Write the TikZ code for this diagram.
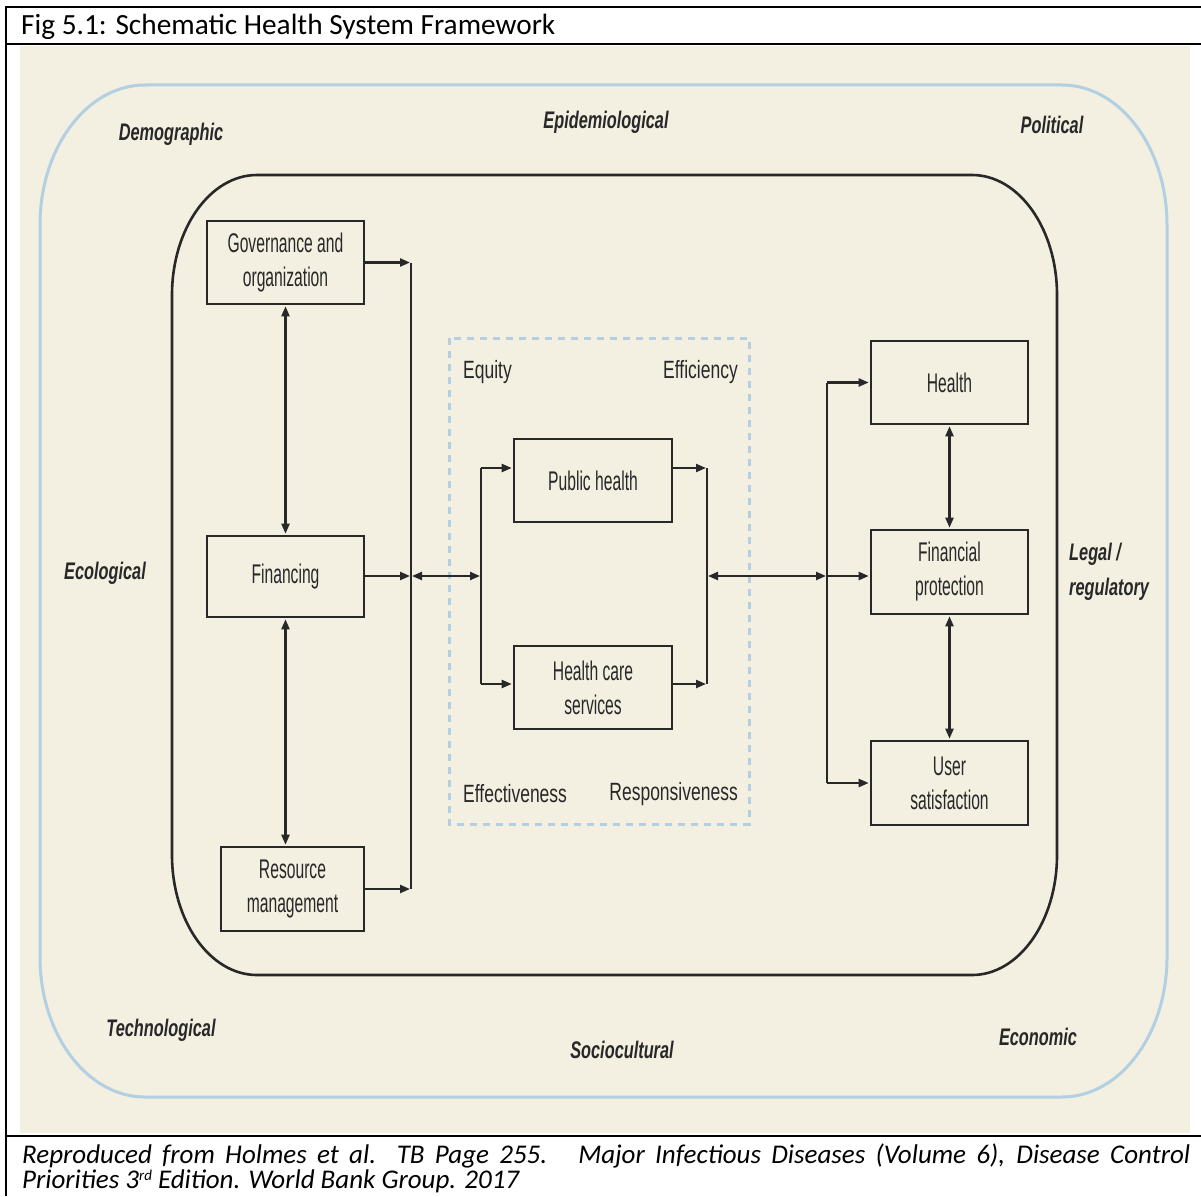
\documentclass[tikz,border=0pt]{standalone}
\usepackage{fontspec}
\setmainfont{Carlito}
\newfontfamily\boxf[FakeStretch=0.58]{Liberation Sans}
\newfontfamily\outf[FakeStretch=0.68]{Liberation Sans}
\newfontfamily\midf[FakeStretch=0.70]{Liberation Sans}
\usetikzlibrary{arrows.meta,calc}
\definecolor{beige}{RGB}{243,239,225}
\definecolor{sky}{RGB}{178,208,226}
\definecolor{ink}{RGB}{40,40,40}
\begin{document}
\begin{tikzpicture}[x=1pt,y=-1pt,
  frame/.style={draw=black,line width=2pt},
  sysbox/.style={draw=ink,line width=2.6pt,inner sep=0pt,align=center,text=ink,
    font=\boxf\fontsize{27}{34}\selectfont},
  ctx/.style={inner sep=0pt,text=ink,font=\outf\bfseries\itshape\fontsize{24}{35}\selectfont,align=left},
  goal/.style={inner sep=0pt,text=ink,font=\midf\fontsize{25}{30}\selectfont},
  ln/.style={draw=ink,line width=2.2pt},
  arr/.style={draw=ink,line width=2.2pt,-{Triangle[length=10pt,width=8pt]},shorten >=1pt},
  arrb/.style={draw=ink,line width=2.2pt,{Triangle[length=10pt,width=8pt]}-{Triangle[length=10pt,width=8pt]},shorten >=1pt,shorten <=1pt}
]
\useasboundingbox (0,0) rectangle (1201,1196);
% background
\fill[white] (0,0) rectangle (1201,1196);
\fill[beige] (20,46) rectangle (1190,1133);
% table frame
\draw[frame] (5.5,1196) -- (5.5,7.5) -- (1201,7.5);
\draw[frame] (5.5,44.5) -- (1201,44.5);
\draw[frame] (5.5,1135.5) -- (1201,1135.5);
\node[anchor=base west,inner sep=0pt,font=\fontsize{29.3}{34}\selectfont] (title) at (21,35) {Fig 5.1: Schematic Health System Framework};
\node[anchor=base west,inner sep=0pt,font=\itshape\fontsize{27}{27}\selectfont] (cap1) at (22,1163)
  {\makebox[1168pt][s]{Reproduced from Holmes et al. TB Page 255. \ Major Infectious Diseases (Volume 6), Disease Control}};
\node[anchor=base west,inner sep=0pt,font=\itshape\fontsize{27}{27}\selectfont] (cap2) at (22,1188)
  {Priorities 3\raisebox{8pt}{\fontsize{15}{15}\selectfont rd} Edition. World Bank Group. 2017};
% outer context boundary
\draw[draw=sky,line width=3pt] (145,85) -- (1062,85)
  arc[start angle=-90,end angle=0,x radius=105,y radius=140] -- (1167,957)
  arc[start angle=0,end angle=90,x radius=105,y radius=140] -- (145,1097)
  arc[start angle=90,end angle=180,x radius=105,y radius=140] -- (40,225)
  arc[start angle=180,end angle=270,x radius=105,y radius=140] -- cycle;
% health system boundary
\draw[draw=ink,line width=2.6pt] (257,175) -- (972,175)
  arc[start angle=-90,end angle=0,x radius=85,y radius=120] -- (1057,855)
  arc[start angle=0,end angle=90,x radius=85,y radius=120] -- (257,975)
  arc[start angle=90,end angle=180,x radius=85,y radius=120] -- (172,295)
  arc[start angle=180,end angle=270,x radius=85,y radius=120] -- cycle;
% dashed goals box
\draw[draw=sky,line width=3pt,dash pattern=on 7pt off 6pt] (449,338) rectangle (749,824);
% context labels
\node[ctx] (demo) at (171,134) {Demographic};
\node[ctx] (epi) at (606,122) {Epidemiological};
\node[ctx] (pol) at (1052,125) {Political};
\node[ctx] (eco) at (105,573) {Ecological};
\node[ctx,anchor=west] (legal) at (1069,572) {Legal /\\regulatory};
\node[ctx] (tech) at (161,1030) {Technological};
\node[ctx] (socio) at (622,1050) {Sociocultural};
\node[ctx] (econ) at (1038,1037) {Economic};
% goal labels
\node[goal,anchor=west] (equity) at (463,372) {Equity};
\node[goal,anchor=east] (effic) at (738,372) {Efficiency};
\node[goal,anchor=west] (effect) at (463,794) {Effectiveness};
\node[goal,anchor=east] (resp) at (738,794) {Responsiveness};
% boxes
\node[sysbox,minimum width=157pt,minimum height=83pt] (gov) at (285.5,262.5) {Governance and\\organization};
\node[sysbox,minimum width=157pt,minimum height=81pt] (fin) at (285.5,576.5) {Financing};
\node[sysbox,minimum width=143pt,minimum height=84pt] (rm) at (292.5,889) {Resource\\management};
\node[sysbox,minimum width=158pt,minimum height=83pt] (ph) at (593,480.5) {Public health};
\node[sysbox,minimum width=158pt,minimum height=83pt] (hcs) at (593,687.5) {Health care\\services};
\node[sysbox,minimum width=157pt,minimum height=83pt] (hlth) at (949.5,382.5) {Health};
\node[sysbox,minimum width=157pt,minimum height=84pt] (fp) at (949.5,572) {Financial\\protection};
\node[sysbox,minimum width=157pt,minimum height=84pt] (us) at (949.5,783) {User\\satisfaction};
% bus coordinates
\coordinate (bl) at (411,576);
\coordinate (ml) at (481,576);
\coordinate (mr) at (707,576);
\coordinate (rb) at (827,576);
\coordinate (phin) at (481,468);
\coordinate (hcin) at (481,684);
% left column
\draw[arrb] (gov.south) -- (gov.south |- fin.north);
\draw[arrb] (fin.south) -- (fin.south |- rm.north);
\draw[ln] (gov.east -| bl) -- (rm.east -| bl);
\draw[arr] (gov.east) -- (gov.east -| bl);
\draw[arr] (fin.east |- bl) -- (bl);
\draw[arr] (rm.east) -- (rm.east -| bl);
% to services
\draw[arrb] (bl) -- (ml);
\draw[ln] (phin) -- (hcin);
\draw[arr] (phin) -- (phin -| ph.west);
\draw[arr] (hcin) -- (hcin -| hcs.west);
\draw[ln] (phin -| mr) -- (hcin -| mr);
\draw[arr] (phin -| ph.east) -- (phin -| mr);
\draw[arr] (hcin -| hcs.east) -- (hcin -| mr);
% to outcomes
\draw[arrb] (mr) -- (rb);
\draw[ln] (hlth.west -| rb) -- (us.west -| rb);
\draw[arr] (hlth.west -| rb) -- (hlth.west);
\draw[arr] (rb) -- (rb -| fp.west);
\draw[arr] (us.west -| rb) -- (us.west);
\draw[arrb] (hlth.south) -- (hlth.south |- fp.north);
\draw[arrb] (fp.south) -- (fp.south |- us.north);
\end{tikzpicture}
\end{document}
